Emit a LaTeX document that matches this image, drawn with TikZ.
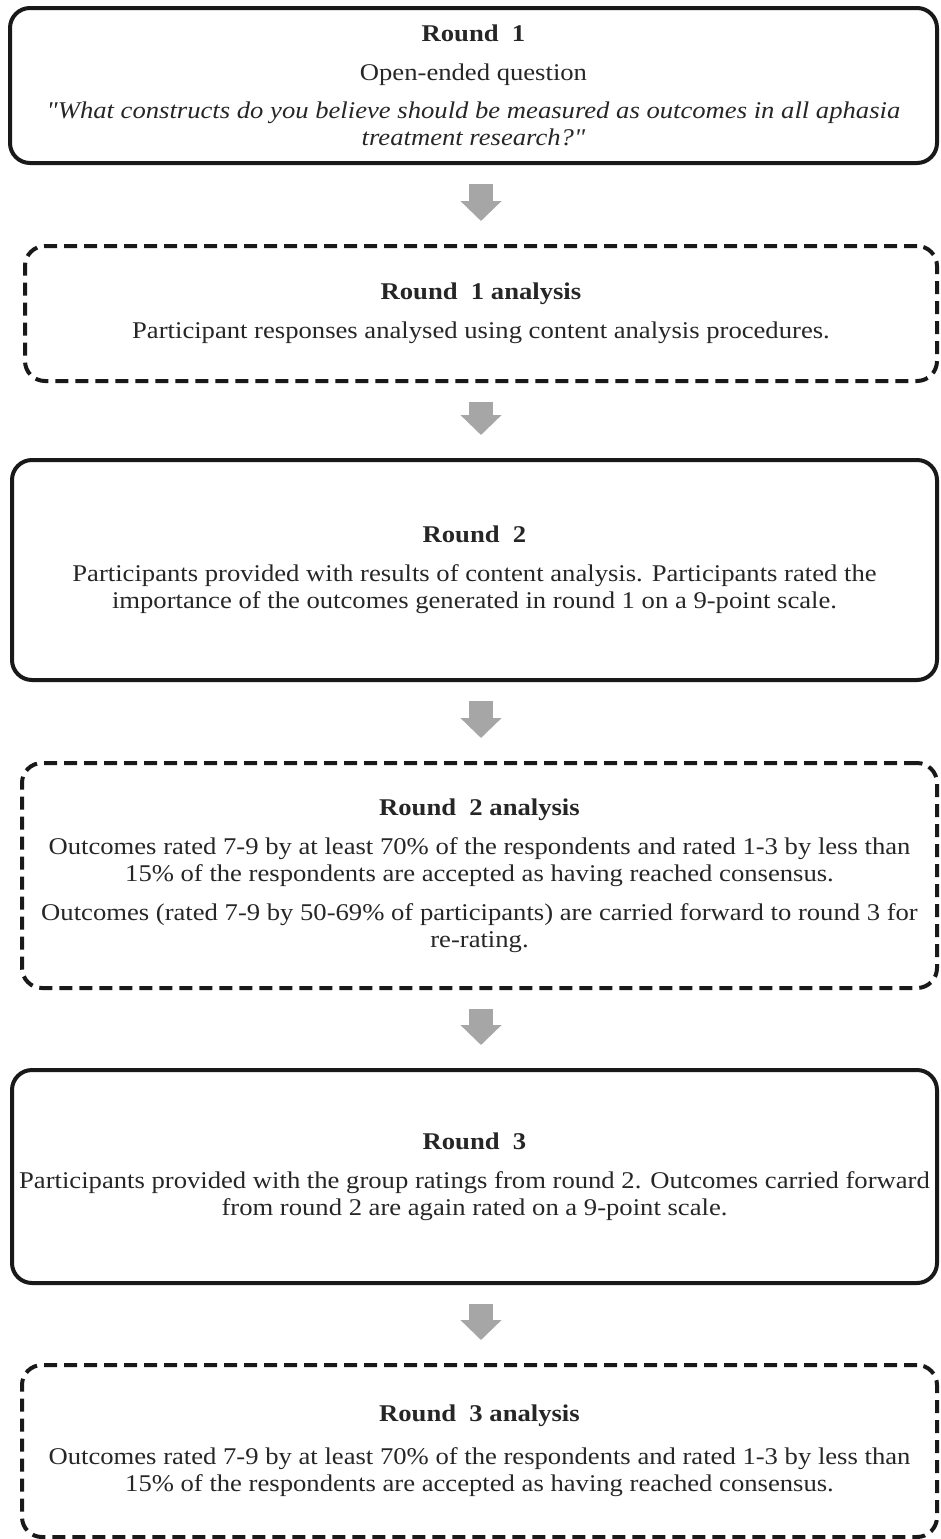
\documentclass[tikz,border=0pt]{standalone}
\usepackage{fontspec}
\setmainfont{Liberation Serif}[Ligatures=TeXOff, FakeStretch=1.11]
\usetikzlibrary{arrows.meta}
\begin{document}
\begin{tikzpicture}[x=1pt,y=1pt,
  solidbox/.style={draw=black!90, line width=4pt, rounded corners=20pt, inner sep=0pt,
    align=center, font=\fontsize{24}{27}\selectfont, text=black!85},
  dashbox/.style={solidbox, dash pattern=on 13pt off 7pt},
  flowarrow/.style={draw=black!35, line width=24pt, -{Triangle[length=20pt,width=40pt]},
    shorten <=19pt, shorten >=23pt}
]
\useasboundingbox (0,0) rectangle (940,-1539);
\coordinate (ax) at (481,0);

\node[solidbox, minimum width=927pt, minimum height=155pt] (b1) at (473.5,-85.5)
  {\textbf{Round~~1}\\[12pt]Open-ended question\\[11pt]\textit{"What constructs do you believe should be measured as outcomes in all aphasia}\\\textit{treatment research?"}};

\node[dashbox, minimum width=912pt, minimum height=135pt] (b2) at (481,-313.5)
  {\textbf{Round~~1 analysis}\\[12pt]Participant responses analysed using content analysis procedures.};

\node[solidbox, minimum width=925pt, minimum height=220pt] (b3) at (474.5,-570)
  {\textbf{Round~~2}\\[12pt]Participants provided with results of content analysis. Participants rated the\\importance of the outcomes generated in round 1 on a 9-point scale.};

\node[dashbox, minimum width=915pt, minimum height=225pt] (b4) at (479.5,-875.5)
  {\textbf{Round~~2 analysis}\\[12pt]Outcomes rated 7-9 by at least 70\% of the respondents and rated 1-3 by less than\\15\% of the respondents are accepted as having reached consensus.\\[12pt]Outcomes (rated 7-9 by 50-69\% of participants) are carried forward to round 3 for\\re-rating.};

\node[solidbox, minimum width=925pt, minimum height=213pt] (b5) at (474.5,-1176.5)
  {\textbf{Round~~3}\\[12pt]Participants provided with the group ratings from round 2. Outcomes carried forward\\from round 2 are again rated on a 9-point scale.};

\node[dashbox, minimum width=915pt, minimum height=172pt] (b6) at (479.5,-1451)
  {\textbf{Round~~3 analysis}\\[16pt]Outcomes rated 7-9 by at least 70\% of the respondents and rated 1-3 by less than\\15\% of the respondents are accepted as having reached consensus.};

\draw[flowarrow] (b1.south -| ax) -- (b2.north -| ax);
\draw[flowarrow] (b2.south -| ax) -- (b3.north -| ax);
\draw[flowarrow] (b3.south -| ax) -- (b4.north -| ax);
\draw[flowarrow] (b4.south -| ax) -- (b5.north -| ax);
\draw[flowarrow] (b5.south -| ax) -- (b6.north -| ax);
\end{tikzpicture}
\end{document}
